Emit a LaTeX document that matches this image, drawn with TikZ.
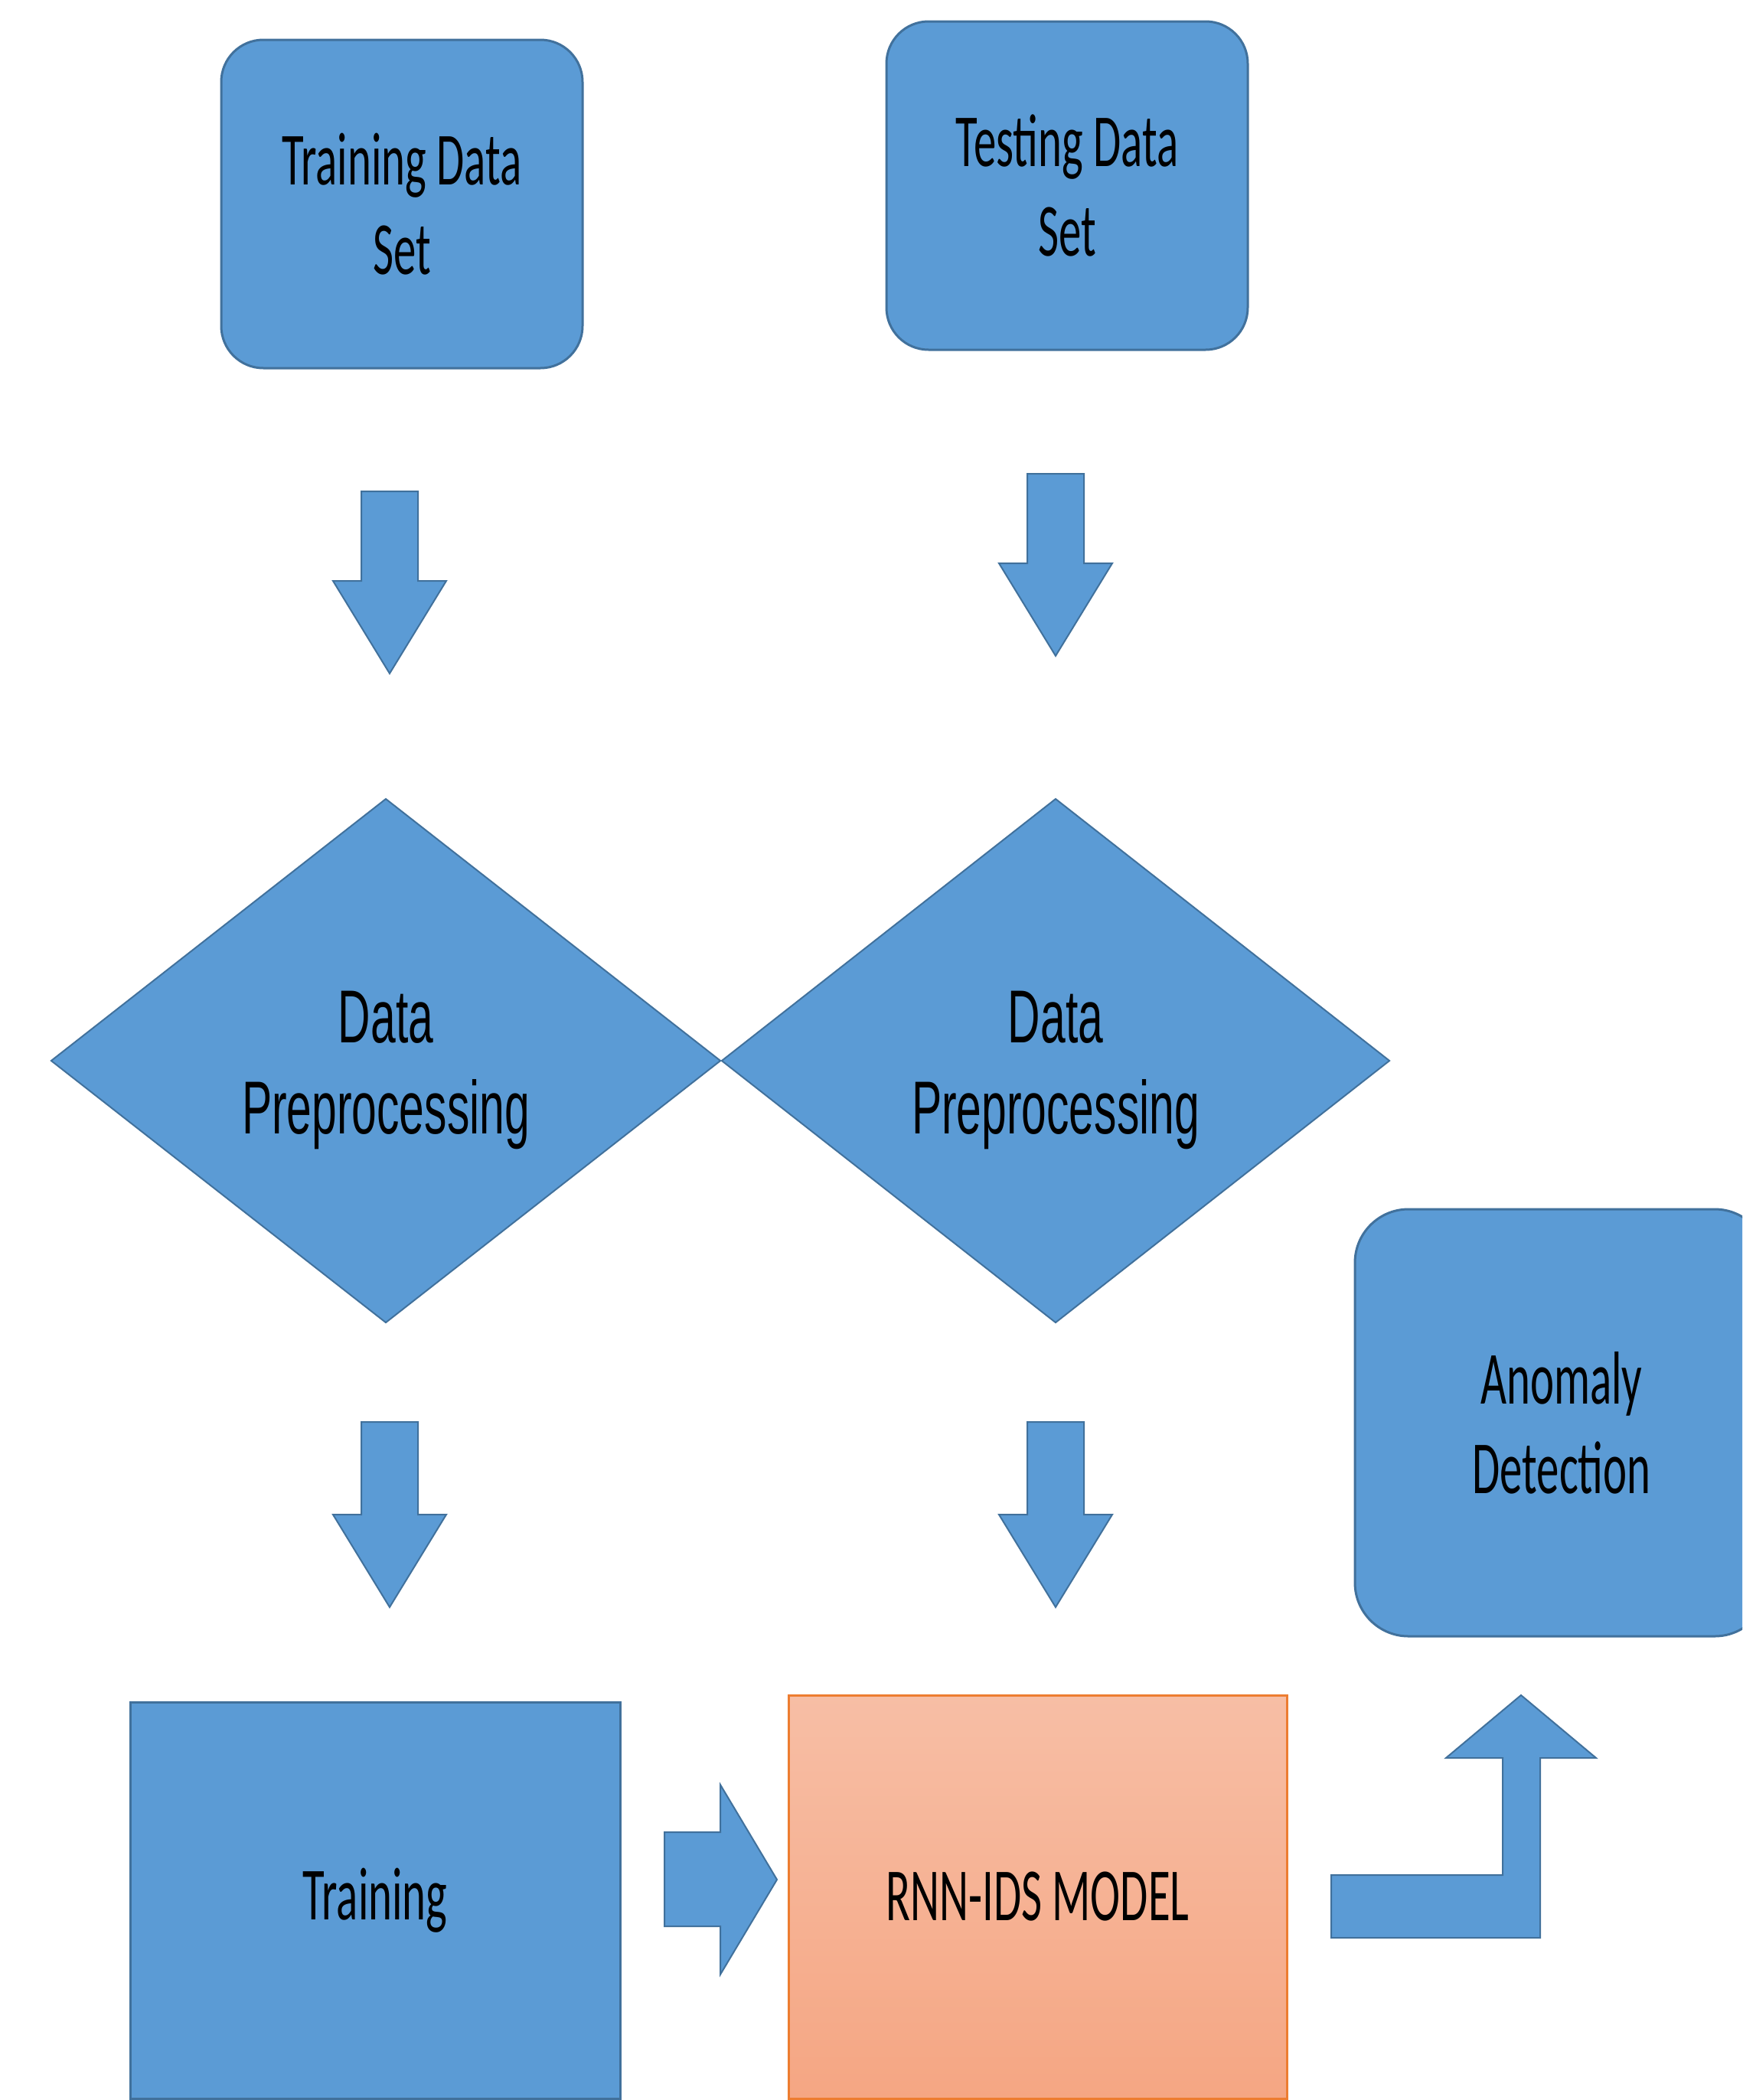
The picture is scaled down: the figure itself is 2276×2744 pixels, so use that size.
\documentclass[tikz,border=0pt]{standalone}
\usepackage{fontspec}
\newfontfamily\calfont[FakeStretch=0.6]{Carlito}
\newfontfamily\libsansfont[FakeStretch=0.6]{Liberation Sans}
\usetikzlibrary{shapes.geometric}
\definecolor{blueF}{HTML}{5B9BD5}
\definecolor{blueD}{HTML}{41719C}
\definecolor{orangeD}{HTML}{ED7D31}
\definecolor{salmonT}{HTML}{F7BEA5}
\definecolor{salmonB}{HTML}{F5A683}
\newcommand{\dnarrow}[2]{\draw[barrow] (#1) ++(-37,0) -- ++(74,0) -- ++(0,#2) -- ++(37,0) -- ++(-74,121) -- ++(-74,-121) -- ++(37,0) -- cycle;}
\begin{document}
\begin{tikzpicture}[x=1pt,y=-1pt,
  txt/.style={align=center, text=black, font=\calfont\fontsize{98}{117}\selectfont},
  rbox/.style={txt, draw=blueD, fill=blueF, line width=3pt, rounded corners=55pt, inner sep=0pt},
  sbox/.style={txt, draw=blueD, fill=blueF, line width=3pt, inner sep=0pt},
  dia/.style={diamond, draw=blueD, fill=blueF, line width=2pt, inner sep=0pt},
  diatext/.style={align=center, text=black, inner sep=0pt, font=\libsansfont\fontsize{98}{119}\selectfont},
  barrow/.style={fill=blueF, draw=blueD, line width=2pt, line join=miter}]
\useasboundingbox (0,0) rectangle (2276,2744);
\clip (0,0) rectangle (2276,2744);
\fill[white] (0,0) rectangle (2276,2744);

% top boxes
\node[rbox, minimum width=472pt, minimum height=429pt] (trainset) at (525,266.5) {Training Data\\Set};
\node[rbox, minimum width=472pt, minimum height=429pt] (testset) at (1394,242.5) {Testing Data\\Set};

% diamonds
\node[dia, minimum width=875pt, minimum height=685pt] (dp1) at (504,1386) {};
\node[dia, minimum width=873pt, minimum height=685pt] (dp2) at (1379,1386) {};
\node[diatext] (dp1t) at ([yshift=-12pt]dp1.center) {Data\\Preprocessing};
\node[diatext] (dp2t) at ([yshift=-12pt]dp2.center) {Data\\Preprocessing};

% bottom boxes
\node[sbox, minimum width=640pt, minimum height=518pt] (training) at (490,2483) {Training};
\node[txt, draw=orangeD, line width=3pt, top color=salmonT, bottom color=salmonB, inner sep=0pt,
      minimum width=651pt, minimum height=527pt] (rnn) at (1355.5,2478.5) {RNN-IDS MODEL};
\node[rbox, rounded corners=70pt, minimum width=540pt, minimum height=558pt] (anom) at (2040,1859) {Anomaly\\Detection};

% block arrows
\coordinate (a1) at (509,642);
\coordinate (a2) at (1379,619);
\coordinate (a3) at (509,1858);
\coordinate (a4) at (1379,1858);
\dnarrow{a1}{117}
\dnarrow{a2}{117}
\dnarrow{a3}{121}
\dnarrow{a4}{121}

\coordinate (r1) at (868,2394);
\draw[barrow] (r1) -- (941,2394) -- (941,2332) -- (1015,2456) -- (941,2580) -- (941,2517) -- (868,2517) -- cycle;

\coordinate (b1) at (1739,2450);
\draw[barrow] (b1) -- (1963,2450) -- (1963,2297) -- (1889,2297) -- (1987,2215) -- (2085,2297) -- (2012,2297) -- (2012,2532) -- (1739,2532) -- cycle;
\end{tikzpicture}
\end{document}
